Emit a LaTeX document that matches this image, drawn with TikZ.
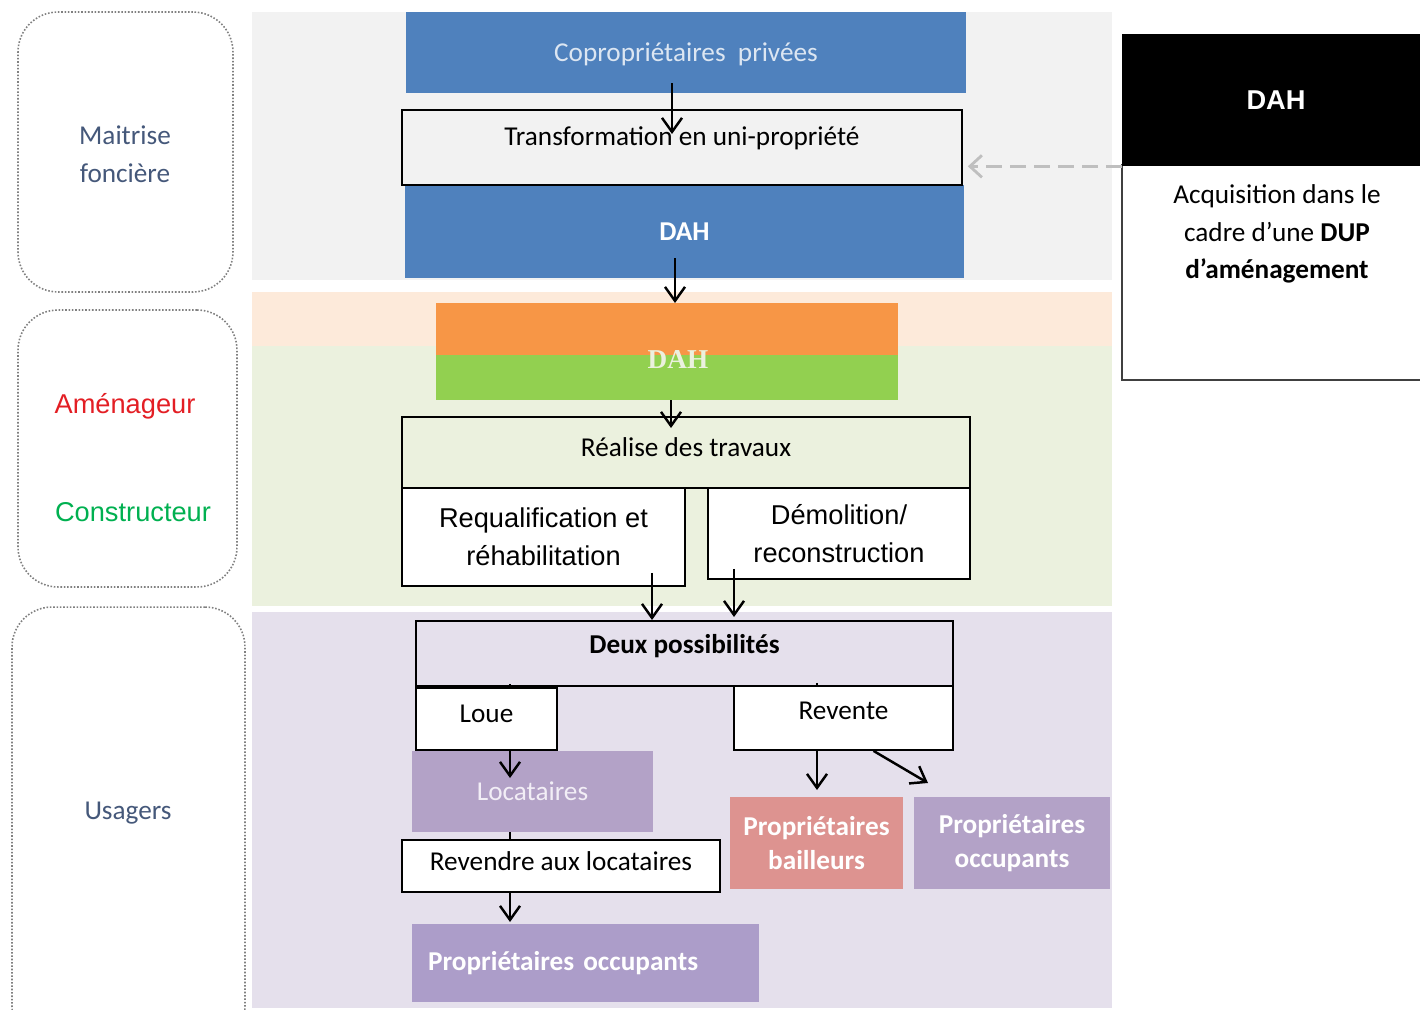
\documentclass[tikz,border=0pt]{standalone}
\usepackage{fontspec}
\setmainfont{Carlito}
\newfontfamily\arialfont{Liberation Sans}
\newfontfamily\timesfont{Liberation Serif}
\usetikzlibrary{arrows.meta}
\definecolor{bandgray}{HTML}{F2F2F2}
\definecolor{bandorange}{HTML}{FDEADA}
\definecolor{bandgreen}{HTML}{EBF1DE}
\definecolor{bandlav}{HTML}{E5E0EC}
\definecolor{blueb}{HTML}{4F81BD}
\definecolor{bluetxt}{HTML}{DCE6F2}
\definecolor{orangeb}{HTML}{F79646}
\definecolor{greenb}{HTML}{92D050}
\definecolor{purpb}{HTML}{B3A2C7}
\definecolor{purpb2}{HTML}{AC9DC9}
\definecolor{pinkb}{HTML}{DD9390}
\definecolor{labelblue}{HTML}{45587A}
\definecolor{amred}{HTML}{E31E24}
\definecolor{congreen}{HTML}{00B050}
\definecolor{loctxt}{HTML}{F2EEF6}

\begin{document}
\begin{tikzpicture}[x=0.02cm, y=-0.02cm,
    every node/.style={inner sep=0pt, font=\fontsize{15.5}{21.5}\selectfont},
    side/.style={draw=gray, densely dotted, line width=0.9pt, rounded corners=0.8cm},
    frame/.style={draw=black, line width=1pt},
    arial/.style={font=\arialfont\fontsize{15.5}{21.5}\selectfont},
    bold/.style={font=\bfseries\fontsize{15.5}{19}\selectfont},
    arr/.style={-{Straight Barb[length=2.8mm,width=4mm]}, line width=1.4pt},
    dasharr/.style={-{Straight Barb[length=2.4mm,width=4.4mm]}, draw=gray!50,
      line width=1.6pt, dash pattern=on 0.32cm off 0.16cm}]
  \useasboundingbox (0,0) rectangle (1420,1010);

  % background bands
  \fill[bandgray] (252,12) rectangle (1112,280);
  \fill[bandorange] (252,292) rectangle (1112,346);
  \fill[bandgreen] (252,346) rectangle (1112,606);
  \fill[bandlav] (252,612) rectangle (1112,1008);

  % left column
  \node[side, minimum width=4.3cm, minimum height=5.6cm] (s1) at (125.5,152) {};
  \node[side, minimum width=4.38cm, minimum height=5.54cm] (s2) at (127.5,448.5) {};
  \node[side, minimum width=4.66cm, minimum height=8.8cm] (s3) at (128.5,827) {};
  \node[align=center, text=labelblue] (lm) at (125,154) {Maitrise\\foncière};
  \node[arial, text=amred] (la) at (125,406) {Aménageur};
  \node[arial, text=congreen] (lc) at (133,512) {Constructeur};
  \node[text=labelblue] (lu) at (128,813) {Usagers};

  % maitrise fonciere
  \node[fill=blueb, text=bluetxt, minimum width=11.2cm, minimum height=1.62cm, text depth=0cm] (copro) at (686,52.5) {Copropriétaires\ \ privées};
  \node[fill=blueb, text=white, font=\bfseries\fontsize{15.5}{18}\selectfont,
    minimum width=11.18cm, minimum height=1.86cm] (dah1) at (684.5,231.5) {DAH};
  \node[frame, fill=bandgray, minimum width=11.2cm, minimum height=1.5cm, text depth=0.46cm] (transfo) at (682,147.5) {Transformation en uni-propriété};

  % amenageur / constructeur
  \node[minimum width=9.24cm, minimum height=1.94cm, text=bandgreen, text height=0.68cm,
    font=\timesfont\bfseries\fontsize{15.5}{18}\selectfont,
    path picture={
      \fill[orangeb] (path picture bounding box.north west) rectangle ([yshift=-1.04cm]path picture bounding box.north east);
      \fill[greenb] ([yshift=-1.04cm]path picture bounding box.north west) rectangle (path picture bounding box.south east);
    }] (dah2) at (667,351.5) {\hspace{0.44cm}DAH};
  \node[frame, fill=white, arial, align=center, minimum width=5.66cm, minimum height=1.96cm] (requal) at (543.5,537) {Requalification et\\réhabilitation};
  \node[frame, fill=white, arial, align=center, minimum width=5.24cm, minimum height=1.82cm] (demol) at (839,533.5) {Démolition/\\reconstruction};
  \node[frame, fill=bandgreen, minimum width=11.36cm, minimum height=1.42cm, text depth=0.22cm] (trav) at (686,452.5) {Réalise des travaux};

  % usagers
  \node[frame, fill=bandlav, bold, minimum width=10.74cm, minimum height=1.3cm, text depth=0.38cm] (deux) at (684.5,653.5) {Deux possibilités};
  \node[frame, fill=white, minimum width=2.82cm, minimum height=1.24cm, text depth=0.2cm] (loue) at (486.5,719) {Loue};
  \node[frame, fill=white, minimum width=4.38cm, minimum height=1.28cm, text depth=0.28cm] (revente) at (843.5,718) {Revente};
  \node[fill=purpb, text=loctxt, minimum width=4.82cm, minimum height=1.62cm] (loc) at (532.5,791.5) {Locataires};
  \node[frame, fill=white, minimum width=6.36cm, minimum height=1.04cm, text depth=0.18cm] (revendre) at (561,866) {Revendre aux locataires};
  \node[fill=purpb2, text=white, bold, text width=6.3cm, inner xsep=0.32cm, minimum height=1.56cm, align=left] (po1) at (585.5,963) {Propriétaires occupants};
  \node[fill=pinkb, text=white, bold, align=center, minimum width=3.46cm, minimum height=1.84cm] (pb) at (816.5,843) {Propriétaires\\bailleurs};
  \node[fill=purpb, text=white, bold, align=center, minimum width=3.92cm, minimum height=1.84cm] (po2) at (1012,843) {Propriétaires\\occupants};

  % DAH outside
  \node[draw=black!75, line width=1pt, fill=white, minimum width=6.16cm, minimum height=4.3cm] (acq) at (1276,272.5) {};
  \node[fill=black, text=white, font=\arialfont\bfseries\fontsize{15.5}{18}\selectfont,
    minimum width=6.16cm, minimum height=2.64cm] (dah3) at (1276,100) {DAH};
  \node[align=center, font=\fontsize{15.5}{21.5}\selectfont] (acqtxt) at (1277,234) {Acquisition dans le\\cadre d’une \textbf{DUP}\\\textbf{d’aménagement}};

  % arrows
  \coordinate (a1) at (672,134);
  \coordinate (a2) at (675,303);
  \coordinate (a3) at (671,428);
  \coordinate (a4) at (652,620);
  \coordinate (a5) at (734,617);
  \coordinate (a6) at (510,778);
  \coordinate (a8) at (510,922);
  \coordinate (a9) at (817,790);
  \coordinate (a10) at (928,783);
  \draw[arr] ([yshift=0.2cm]copro.south -| a1) -- (a1);
  \draw[arr] ([yshift=0.4cm]dah1.south -| a2) -- (a2);
  \draw[arr] (dah2.south -| a3) -- (a3);
  \draw[arr] ([yshift=0.28cm]requal.south -| a4) -- (a4);
  \draw[arr] ([yshift=0.22cm]demol.south -| a5) -- (a5);
  \draw[line width=1pt] ([yshift=0.06cm]deux.south -| a6) -- (loue.north -| a6);
  \draw[line width=1pt] ([yshift=0.08cm]deux.south -| a9) -- (deux.south -| a9);
  \draw[arr] (loue.south -| a6) -- (a6);
  \draw[line width=1.4pt] (loc.south -| a6) -- (revendre.north -| a6);
  \draw[arr] (revendre.south -| a8) -- (a8);
  \draw[arr] (revente.south -| a9) -- (a9);
  \draw[arr] ([xshift=0.6cm]revente.south) -- (a10);
  \draw[dasharr] (dah3.south west) -- ([xshift=0.1cm]dah3.south west -| transfo.east);
\end{tikzpicture}
\end{document}
